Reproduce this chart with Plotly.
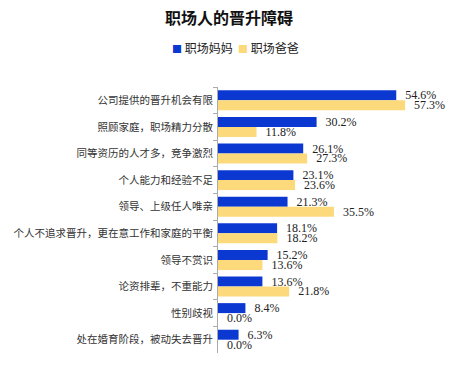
import plotly.graph_objects as go

categories = [
    "公司提供的晋升机会有限",
    "照顾家庭，职场精力分散",
    "同等资历的人才多，竞争激烈",
    "个人能力和经验不足",
    "领导、上级任人唯亲",
    "个人不追求晋升，更在意工作和家庭的平衡",
    "领导不赏识",
    "论资排辈，不重能力",
    "性别歧视",
    "处在婚育阶段，被动失去晋升",
]
moms = [54.6, 30.2, 26.1, 23.1, 21.3, 18.1, 15.2, 13.6, 8.4, 6.3]
dads = [57.3, 11.8, 27.3, 23.6, 35.5, 18.2, 13.6, 21.8, 0.0, 0.0]
series_names = ["职场妈妈", "职场爸爸"]
colors = ["#0b38d0", "#fcd97a"]

label_font = dict(family="Liberation Serif, Times New Roman, serif", size=12, color="#222222")

fig = go.Figure()
for name, vals, col in zip(series_names, [moms, dads], colors):
    fig.add_trace(go.Bar(
        name=name, y=categories, x=vals, orientation="h",
        marker=dict(color=col, line=dict(width=0)),
        text=[f"  {v:.1f}%" for v in vals], textposition="outside",
        textfont=label_font, cliponaxis=False, showlegend=False,
        constraintext="none",
    ))

PL, PW = 218, 222
legend_center_px = 235
legend_text = "  ".join(
    f"<span style='color:{c};font-size:10px'>■</span> {n}" for n, c in zip(series_names, colors)
)

fig.update_layout(
    width=458, height=374,
    margin=dict(l=PL, r=458 - PL - PW, t=87, b=21),
    paper_bgcolor="white", plot_bgcolor="white",
    barmode="group", bargap=0.25, bargroupgap=0,
    uniformtext=dict(mode=False),
    title=dict(text="<b>职场人的晋升障碍</b>", x=0.5, xanchor="center", xref="container",
               y=1 - 18 / 374, yanchor="middle", yref="container",
               font=dict(family="Noto Sans CJK SC", size=16, color="#111111")),
    annotations=[dict(
        text=legend_text, xref="paper", yref="paper",
        x=(legend_center_px - PL) / PW, y=1 + (87 - 47) / 266,
        xanchor="center", yanchor="middle", showarrow=False,
        font=dict(family="Noto Sans CJK SC", size=12, color="#222222"),
    )],
    font=dict(family="Noto Sans CJK SC", size=10.5, color="#333333"),
    showlegend=False,
)
fig.update_xaxes(range=[0, 68], visible=False, showgrid=False, zeroline=False)
fig.update_yaxes(
    autorange="reversed", type="category", tickson="boundaries",
    ticks="outside", ticklen=4, tickcolor="#aaaaaa", showline=True, linecolor="#aaaaaa",
    linewidth=1, showgrid=False,
    tickfont=dict(family="Noto Sans CJK SC", size=10.5, color="#333333"),
    ticklabelstandoff=2,
)

fig.write_html("out.html")
